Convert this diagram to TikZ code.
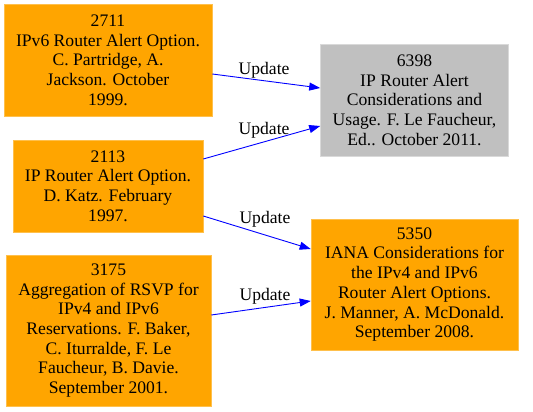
\documentclass[tikz,border=0pt]{standalone}
\usepackage{fontspec}
\setmainfont{Liberation Serif}
\usetikzlibrary{arrows.meta}
\begin{document}
\begin{tikzpicture}[x=1pt,y=-1pt,
  rfc/.style={fill=orange!100, draw=orange!70!white, line width=0.6pt, align=center, inner sep=0pt,
    font=\fontsize{17.6}{19.7}\selectfont},
  rfcgray/.style={rfc, fill=lightgray!100, draw=lightgray!60!white},
  upd/.style={draw=blue, line width=0.9pt, -{Triangle[length=11pt,width=8pt]}},
  lbl/.style={font=\fontsize{17.6}{19}\selectfont, inner sep=1pt}]
\definecolor{orange}{HTML}{FFA500}
\definecolor{lightgray}{HTML}{C0C0C0}
\useasboundingbox (0,0) rectangle (533,412);
\fill[white] (0,0) rectangle (533,412);
\node[rfc, minimum width=208pt, minimum height=112pt] (n2711) at (108,60)
  {2711\\IPv6 Router Alert Option.\\C. Partridge, A.\\Jackson. October\\1999.};
\node[rfcgray, minimum width=188pt, minimum height=112pt] (n6398) at (414.5,100)
  {6398\\IP Router Alert\\Considerations and\\Usage. F. Le Faucheur,\\Ed.. October 2011.};
\node[rfc, minimum width=190pt, minimum height=92pt] (n2113) at (108,186)
  {2113\\IP Router Alert Option.\\D. Katz. February\\1997.};
\node[rfc, minimum width=207pt, minimum height=131pt] (n5350) at (414.5,284.5)
  {5350\\IANA Considerations for\\the IPv4 and IPv6\\Router Alert Options.\\J. Manner, A. McDonald.\\September 2008.};
\node[rfc, minimum width=205pt, minimum height=151pt] (n3175) at (108.5,330.5)
  {3175\\Aggregation of RSVP for\\IPv4 and IPv6\\Reservations. F. Baker,\\C. Iturralde, F. Le\\Faucheur, B. Davie.\\September 2001.};
\draw[upd] ([yshift=-14pt]n2711.east) -- node[lbl, pos=0.48, above=1pt]{Update} ([yshift=12pt]n6398.west);
\draw[upd] ([yshift=27pt]n2113.east) -- node[lbl, pos=0.52, above=2pt]{Update} ([yshift=-26pt]n6398.west);
\draw[upd] ([yshift=-30pt]n2113.east) -- node[lbl, pos=0.574, above=6pt]{Update} ([yshift=35.5pt]n5350.west);
\draw[upd] ([yshift=15.5pt]n3175.east) -- node[lbl, pos=0.54, above=1.5pt]{Update} ([yshift=-16.5pt]n5350.west);
\end{tikzpicture}
\end{document}
